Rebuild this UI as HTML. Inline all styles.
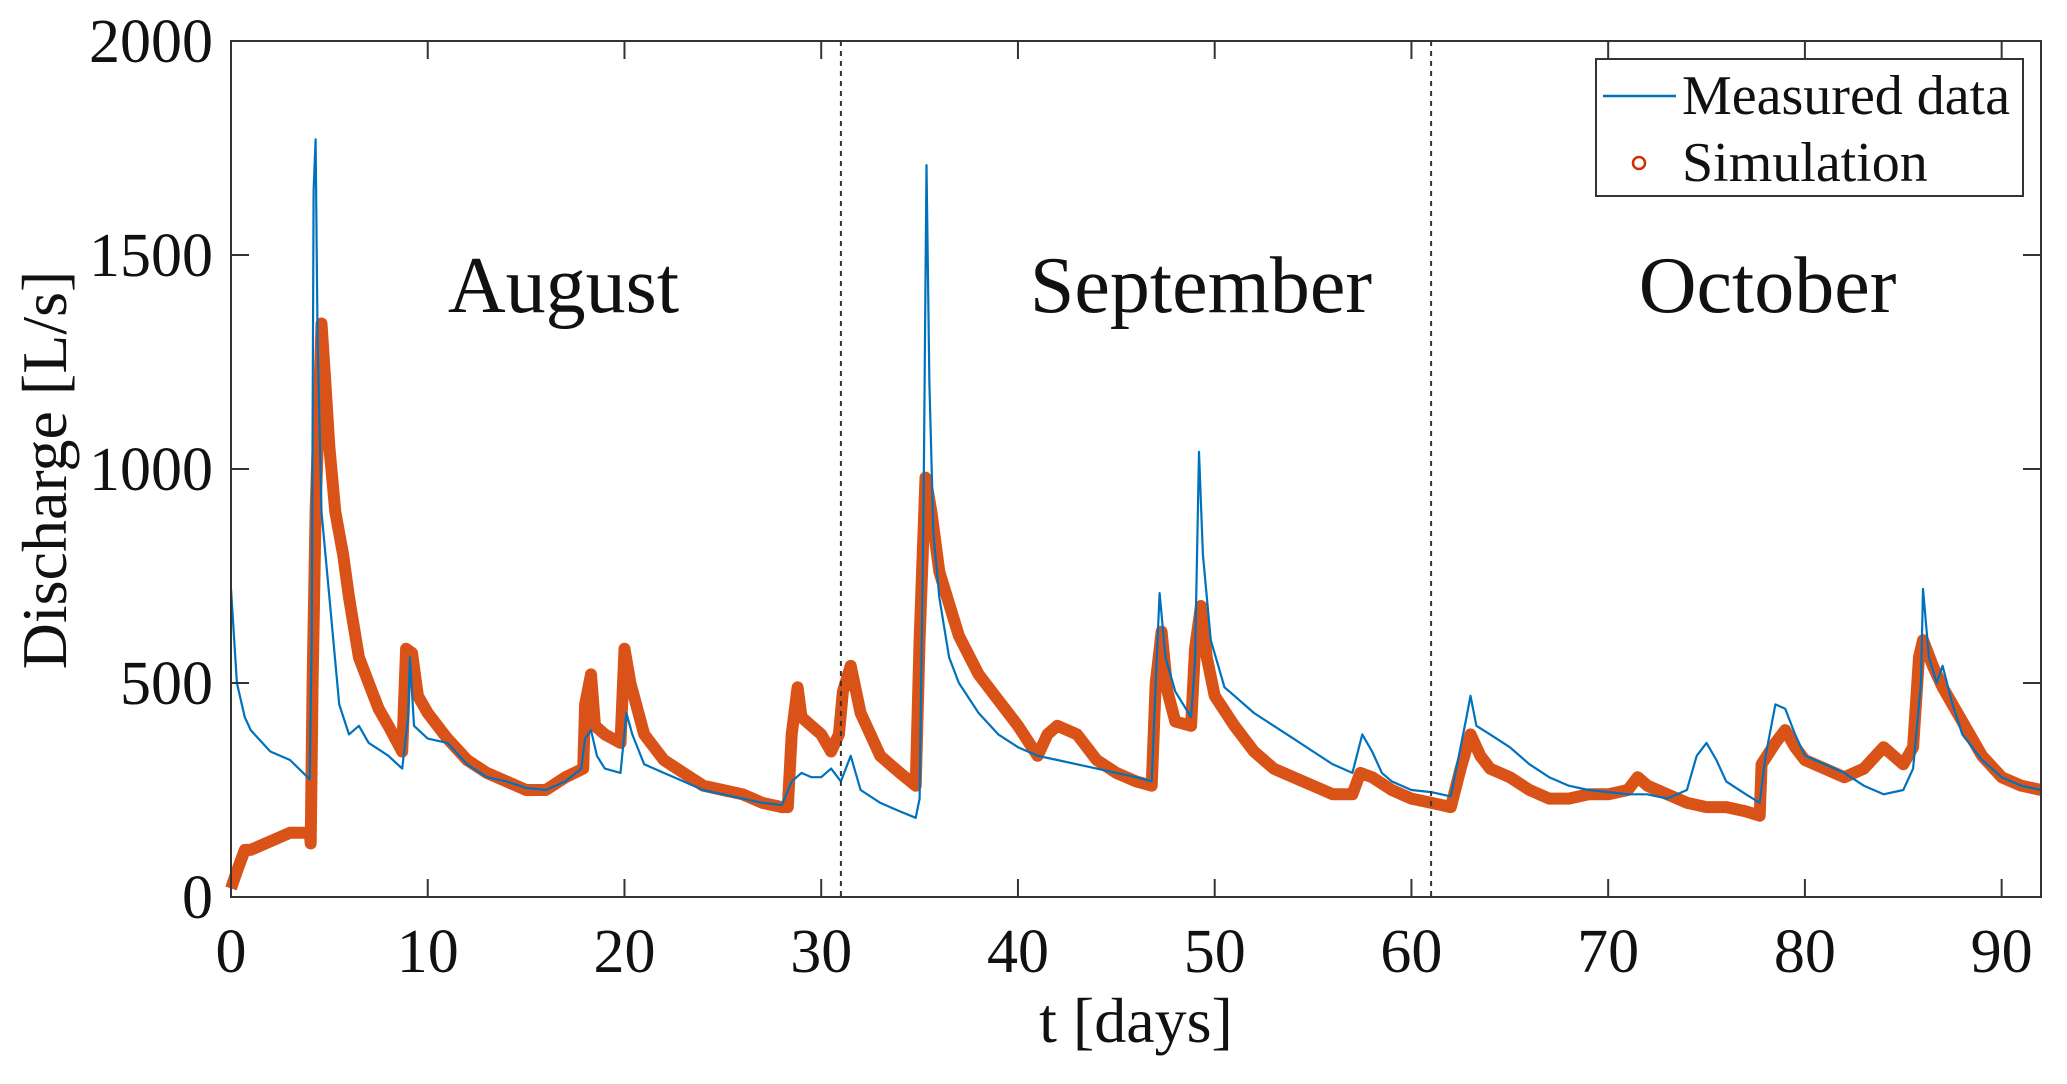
<!DOCTYPE html>
<html><head><meta charset="utf-8"><style>
html,body{margin:0;padding:0;background:#fff}
svg{display:block}
text{font-family:"Liberation Serif",serif;fill:#111}
</style></head><body>
<svg id="chart" width="2067" height="1084" viewBox="0 0 2067 1084" xmlns="http://www.w3.org/2000/svg">
<g id="marks"></g>
<g id="axes"></g>
</svg>
<script>
const measT=[0,0.3,0.7,1,2,3,4,4.1,4.2,4.3,4.4,4.6,5,5.5,6,6.5,7,8,8.7,9,9.1,9.3,10,11,12,13,14,15,16,17,17.8,18,18.3,18.6,19,19.8,20.1,20.4,21,22,23,24,25,26,27,28,28.5,29,29.5,30,30.5,31,31.5,32,33,34,34.8,35,35.2,35.35,35.5,35.7,36,36.5,37,38,39,40,41,42,43,44,45,46,46.8,47,47.2,47.5,48,48.8,49,49.2,49.4,49.8,50.5,51,52,53,54,55,56,57,57.5,58,58.5,59,60,61,62,62.8,63,63.3,64,65,66,67,68,69,70,71,72,73,74,74.5,75,75.5,76,77,77.7,78,78.5,79,79.5,80,81,82,83,84,85,85.5,85.9,86,86.3,86.7,87,87.5,88,89,90,91,92];
const measQ=[720,500,420,390,340,320,275,600,1650,1770,1300,900,700,450,380,400,360,330,300,420,560,400,370,360,310,280,270,255,250,270,300,370,390,330,300,290,430,380,310,290,270,250,240,230,220,215,270,290,280,280,300,270,330,250,220,200,185,230,900,1710,1200,850,700,560,500,430,380,350,330,320,310,300,290,280,270,500,710,560,480,420,550,1040,800,600,490,470,430,400,370,340,310,290,380,340,290,270,250,245,235,420,470,400,380,350,310,280,260,250,245,240,240,230,250,330,360,320,270,240,220,330,450,440,380,330,310,290,260,240,250,300,500,720,560,500,540,450,380,320,280,260,250];
const simT=[0,0.3,0.7,1,2,3,4,4.05,4.15,4.3,4.6,4.8,5,5.3,5.7,6,6.5,7,7.5,8,8.7,8.9,9.2,9.5,10,11,12,13,14,15,16,17,17.9,18,18.3,18.5,19,19.8,20,20.3,21,22,23,24,25,26,27,28,28.3,28.5,28.8,29,30,30.5,30.9,31.1,31.5,32,33,34,34.8,35,35.3,35.6,36,37,38,39,40,41,41.5,42,43,44,45,46,46.8,47,47.3,47.6,48,48.8,49,49.3,49.6,50,51,52,53,54,55,56,57,57.4,58,59,60,61,62,62.5,63,63.5,64,65,66,67,68,69,70,71,71.5,72,73,74,75,76,77,77.7,77.8,78.5,79,79.5,80,81,82,83,84,85,85.5,85.8,86,86.5,87,88,89,90,91,92];
const simQ=[20,60,110,110,130,150,150,125,500,900,1340,1200,1050,900,800,700,560,500,440,400,340,580,570,470,430,370,320,290,270,250,250,280,300,450,520,400,380,360,580,500,380,320,290,260,250,240,220,210,210,380,490,420,380,340,380,480,540,430,330,290,260,600,980,900,760,610,520,460,400,330,380,400,380,320,290,270,260,500,620,480,410,400,580,680,560,470,400,340,300,280,260,240,240,290,280,250,230,220,210,300,380,330,300,280,250,230,230,240,240,250,280,260,240,220,210,210,200,190,310,360,390,350,320,300,280,300,350,310,350,560,600,540,490,410,330,280,260,250];
const xTicks=[0,10,20,30,40,50,60,70,80,90];
const yTicks=[0,500,1000,1500,2000];
const monthNames=["August","September","October"];
const monthCenters=[16.9,49.3,78.1];
const monthBounds=[31,61];

const NS="http://www.w3.org/2000/svg";
const L=231,R=2041,T=41,B=897,XMAX=92,YMAX=2000;
const xs=t=>L+(t/XMAX)*(R-L);
const ys=q=>B-(q/YMAX)*(B-T);
function mk(tag,attrs,parent,txt){const e=document.createElementNS(NS,tag);for(const k in attrs)e.setAttribute(k,attrs[k]);if(txt!==undefined)e.textContent=txt;parent.appendChild(e);return e;}
const marks=document.getElementById('marks'),axes=document.getElementById('axes');

function pathOf(ts,qs){return ts.map((t,i)=>(i?'L':'M')+xs(t).toFixed(1)+','+ys(qs[i]).toFixed(1)).join('');}
const simLine=mk('path',{d:pathOf(simT,simQ),fill:'none',stroke:'#d95319','stroke-width':12,'stroke-linejoin':'round'},marks);


const measLine=mk('path',{d:pathOf(measT,measQ),fill:'none',stroke:'#0072bd','stroke-width':2.2,'stroke-linejoin':'round'},marks);



monthBounds.forEach(m=>{
  const l=mk('line',{x1:xs(m),x2:xs(m),y1:T,y2:B,stroke:'#333','stroke-width':2,'stroke-dasharray':'5,5'},axes);
  
  
});
monthNames.forEach((n,i)=>{
  const t=mk('text',{x:xs(monthCenters[i]),y:312,'font-size':80,'text-anchor':'middle'},axes,n);
  
  
});

const frame=mk('rect',{x:L,y:T,width:R-L,height:B-T,fill:'none',stroke:'#333','stroke-width':2},axes);


xTicks.forEach(v=>{
  const x=xs(v);
  mk('line',{x1:x,x2:x,y1:B,y2:B-18,stroke:'#333','stroke-width':2},axes);
  mk('line',{x1:x,x2:x,y1:T,y2:T+18,stroke:'#333','stroke-width':2},axes);
  const t=mk('text',{x:x,y:972,'font-size':62,'text-anchor':'middle'},axes,String(v));
  
  
});
yTicks.forEach(v=>{
  const y=ys(v);
  mk('line',{x1:L,x2:L+18,y1:y,y2:y,stroke:'#333','stroke-width':2},axes);
  mk('line',{x1:R,x2:R-18,y1:y,y2:y,stroke:'#333','stroke-width':2},axes);
  const t=mk('text',{x:213,y:y+21,'font-size':62,'text-anchor':'end'},axes,String(v));
  
  
});
const xt=mk('text',{x:1136,y:1042,'font-size':64,'text-anchor':'middle'},axes,'t [days]');


const yt=mk('text',{x:0,y:0,'font-size':64,'text-anchor':'middle',transform:'translate(66,470) rotate(-90)'},axes,'Discharge [L/s]');



const lg=mk('g',{},axes);


mk('rect',{x:1596,y:59,width:427,height:137,fill:'#fff',stroke:'#333','stroke-width':2},lg);
const e1=mk('g',{},lg);


mk('line',{x1:1603,x2:1676,y1:96,y2:96,stroke:'#0072bd','stroke-width':2.5},e1);
mk('text',{x:1682,y:114,'font-size':56},e1,'Measured data');
const e2=mk('g',{},lg);


mk('circle',{cx:1639,cy:163,r:6,fill:'none',stroke:'#d62d00','stroke-width':2.5},e2);
mk('text',{x:1682,y:181,'font-size':56},e2,'Simulation');
</script>
</body></html>
